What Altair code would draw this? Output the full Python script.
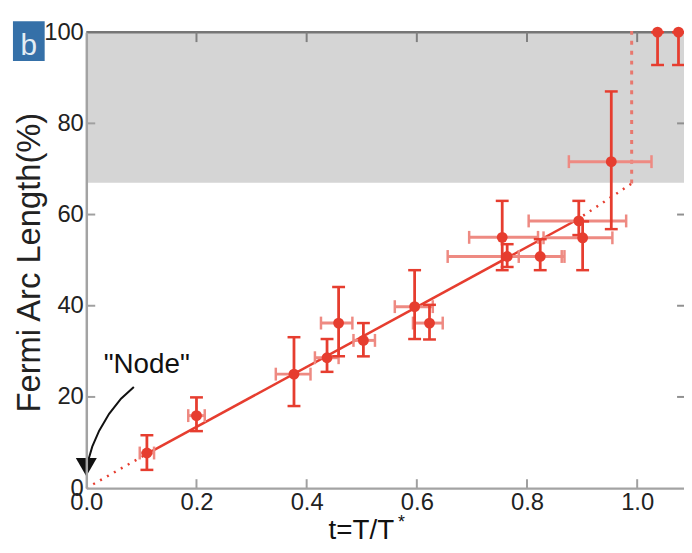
import altair as alt
import pandas as pd
import numpy as np

# ---------------- data ----------------
T      = [0.110, 0.200, 0.377, 0.437, 0.458, 0.503, 0.596, 0.623, 0.755, 0.764, 0.824, 0.894, 0.901, 0.953, 1.037, 1.075]
ARC    = [7.7, 15.9, 25.0, 28.6, 36.2, 32.4, 39.8, 36.2, 55.0, 50.8, 50.8, 58.6, 54.9, 71.6, 100.0, 100.0]
T_LO   = [0.097, 0.185, 0.344, 0.415, 0.426, 0.485, 0.560, 0.593, 0.695, 0.656, 0.785, 0.803, 0.830, 0.876, None, None]
T_HI   = [0.123, 0.215, 0.407, 0.458, 0.483, 0.524, 0.629, 0.647, 0.820, 0.868, 0.863, 0.980, 0.955, 1.026, None, None]
ARC_LO = [4.0, 12.5, 18.0, 25.5, 28.9, 28.9, 32.7, 32.6, 47.8, 48.5, 47.8, 55.5, 47.8, 56.8, 92.8, 92.8]
ARC_HI = [11.6, 19.9, 33.1, 32.7, 44.1, 36.2, 47.8, 40.2, 63.0, 53.5, 54.6, 63.0, 58.5, 87.0, 100.0, 100.0]

FIT_SOLID_T = [0.11, 0.89]
FIT_SOLID_Y = [7.5, 58.8]
FIT_START_T = [0.0, 0.11]
FIT_START_Y = [0.0, 7.5]
FIT_END_T = [0.89, 0.99]
FIT_END_Y = [58.8, 66.8]
VERT_T = [0.99, 0.99]
VERT_Y = [66.8, 101.5]

BAND_LO = [67.0]
BAND_HI = [100.0]

X_TICKS = [0.0, 0.2, 0.4, 0.6, 0.8, 1.0]
Y_TICKS = [0, 20, 40, 60, 80, 100]
X_INNER = [0.2, 0.4, 0.6, 0.8, 1.0]
Y_INNER = [20, 40, 60, 80]

NODE_LABEL_T = [0.1097]
NODE_LABEL_Y = [26.9]
ARROW_T = [0.0863, 0.063, 0.0414, 0.0234, 0.0108, 0.0036]
ARROW_Y = [22.2, 19.6, 16.3, 12.6, 9.1, 6.1]
ARROW_HEAD_T = [0.0]
ARROW_HEAD_Y = [4.6]

# ---------------- styling ----------------
W, H = 603, 460
RED = "#e63d2f"
RED_LIGHT = "#ee8a82"
FONT = "Liberation Sans"

XS = alt.Scale(domain=[0, 1.085], nice=False, zero=False)
YS = alt.Scale(domain=[0, 100], nice=False, zero=False)

XAX = alt.Axis(values=X_TICKS, format=".1f", title="t=T/T", titleX=277, titleY=51,
               titleAlign="center", titleBaseline="alphabetic", titleFontSize=28,
               titleFont=FONT, titleFontWeight="normal", titleColor="#111",
               labelFontSize=24, labelFont=FONT, labelColor="#222", labelPadding=3,
               ticks=False, tickSize=0, domainColor="#a3a3a3", domainWidth=2.5,
               grid=False, labelFlush=False, labelOverlap=False, zindex=1)
YAX = alt.Axis(values=Y_TICKS, format="d", title="Fermi Arc Length(%)", titleX=-57, titleY=232,
               titleAngle=270, titleAlign="center", titleBaseline="middle", titleFontSize=33,
               titleFont=FONT, titleFontWeight="normal", titleColor="#222",
               labelFontSize=24, labelFont=FONT, labelColor="#222", labelPadding=3,
               ticks=False, tickSize=0, domainColor="#a3a3a3", domainWidth=2.5,
               grid=False, labelOverlap=False, zindex=1)


def X(f):
    return alt.X(f, type="quantitative", scale=XS, axis=XAX)


def Y(f):
    return alt.Y(f, type="quantitative", scale=YS, axis=YAX)


df = pd.DataFrame({"t": T, "y": ARC, "t_lo": T_LO, "t_hi": T_HI, "y_lo": ARC_LO, "y_hi": ARC_HI})
one = pd.DataFrame({"a": [0]})

band = alt.Chart(pd.DataFrame({"lo": BAND_LO, "hi": BAND_HI})).mark_rect(color="#d5d5d5").encode(
    x=alt.value(0), x2=alt.value(W), y=Y("lo"), y2="hi")

top_line = alt.Chart(one).mark_rule(color="#767676", strokeWidth=2.5).encode(
    x=alt.value(0), x2=alt.value(W), y=alt.value(0))

xin = pd.DataFrame({"t": X_INNER})
yin = pd.DataFrame({"y": Y_INNER})
bot_ticks = alt.Chart(xin).mark_rule(color="#a0a0a0", strokeWidth=2).encode(
    x=X("t"), y=alt.value(H), y2=alt.value(H - 9))
top_ticks = alt.Chart(xin).mark_rule(color="#808080", strokeWidth=2).encode(
    x=X("t"), y=alt.value(0), y2=alt.value(10))
left_ticks = alt.Chart(yin).mark_rule(color="#a0a0a0", strokeWidth=2).encode(
    y=Y("y"), x=alt.value(0), x2=alt.value(9))
right_ticks = alt.Chart(yin).mark_rule(color="#909090", strokeWidth=2).encode(
    y=Y("y"), x=alt.value(W), x2=alt.value(W - 7))


def seg(tt, yy, dash, color, width):
    d = pd.DataFrame({"t": tt, "y": yy, "i": list(range(len(tt)))})
    m = alt.Chart(d).mark_line(color=color, strokeWidth=width, strokeDash=dash) if dash else \
        alt.Chart(d).mark_line(color=color, strokeWidth=width)
    return m.encode(x=X("t"), y=Y("y"), order="i:O")


fit_solid = seg(FIT_SOLID_T, FIT_SOLID_Y, None, RED, 2.5)
fit_start = seg(FIT_START_T, FIT_START_Y, [2, 6], RED, 2.5)
fit_end = seg(FIT_END_T, FIT_END_Y, [2, 6], RED, 2.5)
vert = seg(VERT_T, VERT_Y, [4, 6], "#e8786e", 3)

base = alt.Chart(df)
v_err = base.mark_rule(color=RED, strokeWidth=2.8).encode(x=X("t"), y=Y("y_lo"), y2="y_hi")
v_caps = base.transform_fold(["y_lo", "y_hi"], as_=["k", "v"]).mark_tick(
    color=RED, thickness=2.5, size=13, orient="horizontal", opacity=1).encode(x=X("t"), y=Y("v"))
h_base = base.transform_filter("isValid(datum.t_lo)")
h_err = h_base.mark_rule(color=RED_LIGHT, strokeWidth=3).encode(x=X("t_lo"), x2="t_hi", y=Y("y"))
h_caps = h_base.transform_fold(["t_lo", "t_hi"], as_=["k", "v"]).mark_tick(
    color=RED_LIGHT, thickness=2.5, size=13, orient="vertical", opacity=1).encode(x=X("v"), y=Y("y"))
pts = base.mark_point(filled=True, shape="circle", size=120, color=RED, opacity=1).encode(x=X("t"), y=Y("y"))

arrow = alt.Chart(pd.DataFrame({"t": ARROW_T, "y": ARROW_Y, "i": list(range(len(ARROW_T)))})).mark_line(
    color="#111", strokeWidth=2).encode(x=X("t"), y=Y("y"), order="i:O")
arrow_head = alt.Chart(pd.DataFrame({"t": ARROW_HEAD_T, "y": ARROW_HEAD_Y})).mark_point(
    shape="triangle-down", filled=True, size=450, color="#111", opacity=1).encode(x=X("t"), y=Y("y"))
node = alt.Chart(pd.DataFrame({"t": NODE_LABEL_T, "y": NODE_LABEL_Y})).mark_text(
    text='"Node"', font=FONT, fontSize=28, color="#111", align="center", baseline="middle").encode(
    x=X("t"), y=Y("y"))

b_box = alt.Chart(one).mark_rect(color="#3570a8").encode(
    x=alt.value(-74), x2=alt.value(-42), y=alt.value(-11), y2=alt.value(29))
b_txt = alt.Chart(one).mark_text(text="b", font=FONT, fontSize=30, color="#e4edf4",
                                 align="center", baseline="alphabetic").encode(
    x=alt.value(-58), y=alt.value(23))
star = alt.Chart(one).mark_text(text="*", font=FONT, fontSize=18, color="#111",
                                align="center", baseline="alphabetic").encode(
    x=alt.value(318), y=alt.value(500))

chart = alt.layer(
    band, top_line, bot_ticks, top_ticks, left_ticks, right_ticks,
    fit_start, fit_solid, fit_end, vert,
    h_err, h_caps, v_err, v_caps, pts,
    arrow, arrow_head, node, b_box, b_txt, star,
).properties(
    width=W, height=H,
    autosize=alt.AutoSizeParams(type="none"),
    padding={"left": 79, "top": 22, "right": 0, "bottom": 55},
    background="white",
).configure_view(strokeWidth=0)

chart.save("out.html", embed_options={"renderer": "svg", "actions": False})
